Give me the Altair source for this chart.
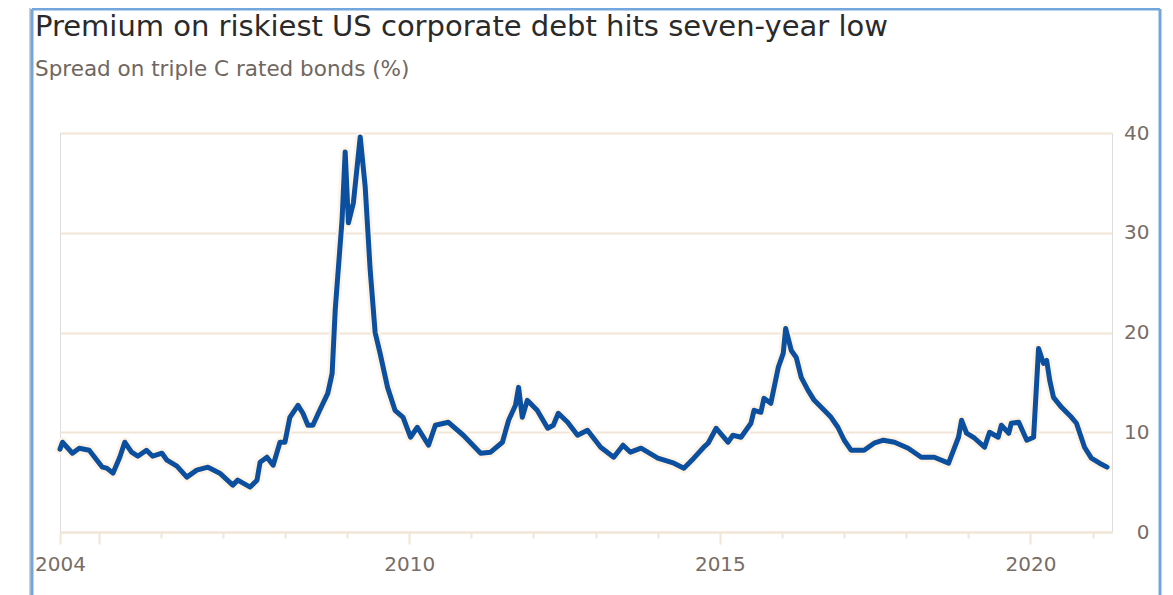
import altair as alt
import pandas as pd

# Decimal-year positions and spread values (%)
years = [
    2004.38, 2004.42, 2004.58, 2004.69, 2004.85, 2005.06, 2005.13, 2005.23, 2005.34, 2005.42,
    2005.53, 2005.63, 2005.77, 2005.87, 2006.02, 2006.10, 2006.26, 2006.42, 2006.58, 2006.76,
    2006.95, 2007.16, 2007.24, 2007.44, 2007.55, 2007.60, 2007.71, 2007.81, 2007.92, 2008.00,
    2008.08, 2008.21, 2008.29, 2008.37, 2008.45, 2008.56, 2008.69, 2008.76, 2008.81, 2008.85,
    2008.92, 2008.97, 2009.02, 2009.10, 2009.21, 2009.29, 2009.37, 2009.45, 2009.53, 2009.65,
    2009.77, 2009.90, 2010.02, 2010.13, 2010.31, 2010.42, 2010.63, 2010.87, 2011.15, 2011.31,
    2011.50, 2011.60, 2011.71, 2011.76, 2011.82, 2011.90, 2012.06, 2012.23, 2012.32, 2012.40,
    2012.55, 2012.71, 2012.87, 2013.08, 2013.29, 2013.44, 2013.56, 2013.73, 2014.00, 2014.26,
    2014.42, 2014.58, 2014.74, 2014.81, 2014.94, 2015.13, 2015.21, 2015.34, 2015.50, 2015.55,
    2015.66, 2015.71, 2015.82, 2015.94, 2016.02, 2016.06, 2016.15, 2016.23, 2016.31, 2016.42,
    2016.52, 2016.68, 2016.79, 2016.90, 2017.00, 2017.11, 2017.32, 2017.48, 2017.63, 2017.81,
    2018.03, 2018.24, 2018.45, 2018.68, 2018.84, 2018.89, 2018.97, 2019.10, 2019.26, 2019.34,
    2019.48, 2019.53, 2019.65, 2019.69, 2019.81, 2019.94, 2020.05, 2020.13, 2020.21, 2020.26,
    2020.31, 2020.37, 2020.50, 2020.66, 2020.74, 2020.87, 2020.98, 2021.11, 2021.23,
]
spread = [
    8.3, 9.0, 7.9, 8.4, 8.2, 6.5, 6.4, 5.9, 7.5, 9.0,
    8.0, 7.6, 8.2, 7.6, 7.9, 7.2, 6.6, 5.5, 6.2, 6.5,
    5.9, 4.7, 5.2, 4.5, 5.2, 7.0, 7.5, 6.7, 9.0, 9.0,
    11.5, 12.7, 11.9, 10.7, 10.7, 12.2, 13.9, 15.9, 22.3, 25.6,
    31.3, 38.1, 31.0, 33.0, 39.6, 34.6, 26.3, 20.0, 17.9, 14.5,
    12.2, 11.5, 9.5, 10.5, 8.7, 10.7, 11.0, 9.7, 7.9, 8.0,
    9.0, 11.2, 12.7, 14.5, 11.5, 13.2, 12.2, 10.4, 10.7, 11.9,
    11.0, 9.7, 10.2, 8.5, 7.5, 8.7, 8.0, 8.4, 7.4, 6.9,
    6.4, 7.4, 8.5, 8.9, 10.4, 9.0, 9.7, 9.5, 10.9, 12.2,
    12.0, 13.4, 12.9, 16.5, 17.9, 20.4, 18.2, 17.5, 15.5, 14.2,
    13.2, 12.2, 11.5, 10.5, 9.2, 8.2, 8.2, 8.9, 9.2, 9.0,
    8.4, 7.5, 7.5, 6.9, 9.5, 11.2, 9.9, 9.4, 8.5, 10.0,
    9.5, 10.7, 9.9, 10.9, 11.0, 9.2, 9.5, 18.4, 16.9, 17.2,
    15.2, 13.5, 12.5, 11.5, 10.9, 8.5, 7.4, 6.9, 6.5,
]

domain_start = 2004.38
domain_end = 2021.31
labelled_years = [2004, 2010, 2015, 2020]
long_tick_years = [2004, 2005, 2010, 2015, 2020]
y_ticks = [0, 10, 20, 30, 40]

title_text = "Premium on riskiest US corporate debt hits seven-year low"
subtitle_text = "Spread on triple C rated bonds (%)"


def to_date(y):
    yr = int(y)
    return pd.Timestamp(yr, 1, 1) + pd.Timedelta(days=(y - yr) * 365.25)


df = pd.DataFrame({"date": [to_date(y) for y in years], "spread": spread})

d0 = to_date(domain_start)
d1 = to_date(domain_end)
tick_values = [d0.isoformat()] + [pd.Timestamp(y, 1, 1).isoformat() for y in range(2005, 2022)]

FONT = "DejaVu Sans"
CREAM = "#f1e5d7"
LABEL = "#776d66"

x_enc = alt.X(
    "date:T",
    scale=alt.Scale(domain=[d0.isoformat(), d1.isoformat()]),
    axis=alt.Axis(
        title=None,
        values=tick_values,
        labelExpr="indexof(%s, year(datum.value)) >= 0 ? timeFormat(datum.value, '%%Y') : ''"
        % str(labelled_years),
        grid=False,
        domainColor=CREAM,
        domainWidth=2,
        tickColor=CREAM,
        tickWidth=2,
        tickSize={"condition": {"test": "indexof(%s, year(datum.value)) >= 0" % str(long_tick_years), "value": 12}, "value": 6},
        labelPadding=10,
        labelFont=FONT,
        labelFontSize=20,
        labelFontWeight="normal",
        labelColor=LABEL,
        labelFlush=False,
        labelOverlap=False,
    ),
)

y_enc = alt.Y(
    "spread:Q",
    scale=alt.Scale(domain=[0, 40]),
    axis=alt.Axis(
        title=None,
        orient="right",
        values=y_ticks,
        domain=False,
        ticks=False,
        tickSize=0,
        grid=True,
        gridColor=CREAM,
        gridWidth=2,
        labelAlign="right",
        labelPadding=37,
        labelFont=FONT,
        labelFontSize=20,
        labelFontWeight="normal",
        labelColor=LABEL,
    ),
)

halo = alt.Chart(df).mark_line(color="#fdf4e6", strokeWidth=10, strokeJoin="round", strokeCap="round").encode(
    x=x_enc, y=y_enc
)
line = alt.Chart(df).mark_line(color="#0b4f9e", strokeWidth=5, strokeJoin="round", strokeCap="round").encode(
    x=x_enc, y=y_enc
)

border_df = pd.DataFrame({"k": [0]})
shadow_left = alt.Chart(border_df).mark_rule(color="#cfcfcf", strokeWidth=2, clip=False).encode(
    x=alt.value(-30), y=alt.value(-126), y2=alt.value(480)
)
shadow_top = alt.Chart(border_df).mark_rule(color="#cfcfcf", strokeWidth=2, clip=False).encode(
    x=alt.value(-30), x2=alt.value(1102), y=alt.value(-126)
)
border_left = alt.Chart(border_df).mark_rule(color="#74a6de", strokeWidth=3, clip=False).encode(
    x=alt.value(-28), y=alt.value(-124), y2=alt.value(480)
)
border_top = alt.Chart(border_df).mark_rule(color="#74a6de", strokeWidth=3, clip=False).encode(
    x=alt.value(-28), x2=alt.value(1100), y=alt.value(-124)
)
border_right = alt.Chart(border_df).mark_rule(color="#74a6de", strokeWidth=3, clip=False).encode(
    x=alt.value(1100), y=alt.value(-124), y2=alt.value(480)
)

chart = (
    alt.layer(halo, line, shadow_left, shadow_top, border_left, border_top, border_right)
    .properties(
        width=1052,
        height=399,
        padding={"left": 52, "top": 125, "right": 53, "bottom": 70},
        autosize=alt.AutoSizeParams(type="none"),
        title=alt.TitleParams(
            text=title_text,
            subtitle=subtitle_text,
            anchor="start",
            frame="group",
            dx=-25,
            offset=-74,
            font=FONT,
            fontSize=29,
            fontWeight="normal",
            color="#2a2a2a",
            subtitleFont=FONT,
            subtitleFontSize=21.5,
            subtitleColor="#6f6660",
            subtitlePadding=17,
        ),
    )
    .configure_axisX(grid=False)
    .configure_view(stroke="transparent", strokeWidth=0)
    .configure(background="white")
)

chart.save("out.html", embed_options={"renderer": "svg", "actions": False})
